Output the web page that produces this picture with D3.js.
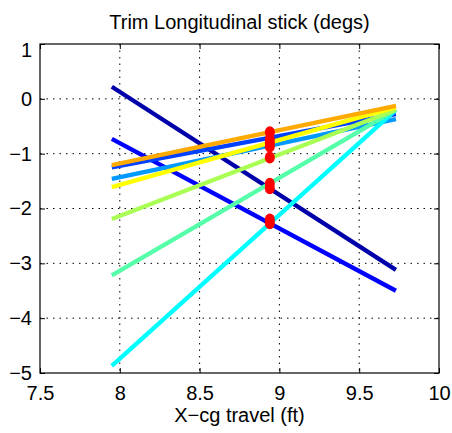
<!DOCTYPE html>
<html>
<head>
<meta charset="utf-8">
<script src="https://cdn.jsdelivr.net/npm/d3@7"></script>
<style>
  body { margin: 0; background: #fff; }
  text { font-family: "Liberation Sans", Arial, sans-serif; fill: #000; }
</style>
</head>
<body>
<div id="chart"></div>
<script>
// x positions of the line ends and of the red trim markers
var xEnds = [7.95, 9.73];
var xMarker = 8.94;

// one entry per line (jet colormap order)
var seriesColors = ["#0000aa", "#0000ff", "#0040ff", "#0099ff", "#00ffff", "#55ffaa", "#aaff55", "#ffff00", "#ffaa00"];
var leftValues   = [0.22, -0.73, -1.25, -1.46, -4.87, -3.22, -2.19, -1.61, -1.21];
var rightValues  = [-3.12, -3.50, -0.28, -0.37, -0.20, -0.20, -0.20, -0.15, -0.13];
var markerValues = [-1.63, -2.27, -0.74, -0.87, -2.20, -1.55, -1.07, -0.80, -0.61];

var xTicks = [7.5, 8, 8.5, 9, 9.5, 10];
var yTicks = [1, 0, -1, -2, -3, -4, -5];

(function () {
  var width = 452;
  var height = 433;

  var svg = d3.select("#chart")
    .append("svg")
    .attr("width", width)
    .attr("height", height);

  var x = d3.scaleLinear().domain([7.5, 10]).range([40, 439]);
  var y = d3.scaleLinear().domain([-5, 1]).range([373, 44]);

  // dotted grid
  svg.append("g").selectAll("line")
    .data(xTicks.slice(1, -1))
    .enter().append("line")
    .attr("x1", function (d) { return x(d); })
    .attr("x2", function (d) { return x(d); })
    .attr("y1", y(1)).attr("y2", y(-5))
    .attr("stroke", "#000").attr("stroke-width", 1)
    .attr("stroke-dasharray", "1.5,5");

  svg.append("g").selectAll("line")
    .data(yTicks.slice(1, -1))
    .enter().append("line")
    .attr("y1", function (d) { return y(d); })
    .attr("y2", function (d) { return y(d); })
    .attr("x1", x(7.5)).attr("x2", x(10))
    .attr("stroke", "#000").attr("stroke-width", 1)
    .attr("stroke-dasharray", "1.5,5");

  // lines
  var rows = seriesColors.map(function (c, i) {
    return { color: c, left: leftValues[i], right: rightValues[i], mark: markerValues[i] };
  });

  svg.append("g").selectAll("line")
    .data(rows)
    .enter().append("line")
    .attr("x1", x(xEnds[0]))
    .attr("x2", x(xEnds[1]))
    .attr("y1", function (d) { return y(d.left); })
    .attr("y2", function (d) { return y(d.right); })
    .attr("stroke", function (d) { return d.color; })
    .attr("stroke-width", 4.3);

  // red markers
  svg.append("g").selectAll("ellipse")
    .data(rows)
    .enter().append("ellipse")
    .attr("cx", x(xMarker))
    .attr("cy", function (d) { return y(d.mark); })
    .attr("rx", 5).attr("ry", 6)
    .attr("fill", "#ff0000");

  // axes with inside ticks
  var bottom = svg.append("g")
    .attr("transform", "translate(0," + y(-5) + ")")
    .call(d3.axisBottom(x).tickValues(xTicks).tickSizeInner(-5).tickSizeOuter(0).tickPadding(13)
      .tickFormat(function (d) { return String(d); }));
  var left = svg.append("g")
    .attr("transform", "translate(" + x(7.5) + ",0)")
    .call(d3.axisLeft(y).tickValues(yTicks).tickSizeInner(-5).tickSizeOuter(0).tickPadding(8)
      .tickFormat(function (d) { return d < 0 ? "\u2212" + Math.abs(d) : String(d); }));
  svg.append("g")
    .attr("transform", "translate(0," + y(1) + ")")
    .call(d3.axisTop(x).tickValues(xTicks).tickSizeInner(-5).tickSizeOuter(0).tickFormat(""));
  svg.append("g")
    .attr("transform", "translate(" + x(10) + ",0)")
    .call(d3.axisRight(y).tickValues(yTicks).tickSizeInner(-5).tickSizeOuter(0).tickFormat(""));

  svg.selectAll(".domain").remove();
  svg.selectAll(".tick text").style("font-size", "20px").style("font-family", "Liberation Sans, Arial, sans-serif");
  left.selectAll(".tick text").filter(function (d) { return d === 1; }).attr("dy", "0.6em");

  svg.append("rect")
    .attr("x", x(7.5)).attr("y", y(1))
    .attr("width", x(10) - x(7.5)).attr("height", y(-5) - y(1))
    .attr("fill", "none").attr("stroke", "#000").attr("stroke-width", 1.2);

  svg.append("text")
    .attr("x", (x(7.5) + x(10)) / 2).attr("y", 29)
    .attr("text-anchor", "middle").style("font-size", "20px")
    .text("Trim Longitudinal stick (degs)");

  svg.append("text")
    .attr("x", (x(7.5) + x(10)) / 2).attr("y", 422)
    .attr("text-anchor", "middle").style("font-size", "20px")
    .text("X\u2212cg travel (ft)");
})();
</script>
</body>
</html>
